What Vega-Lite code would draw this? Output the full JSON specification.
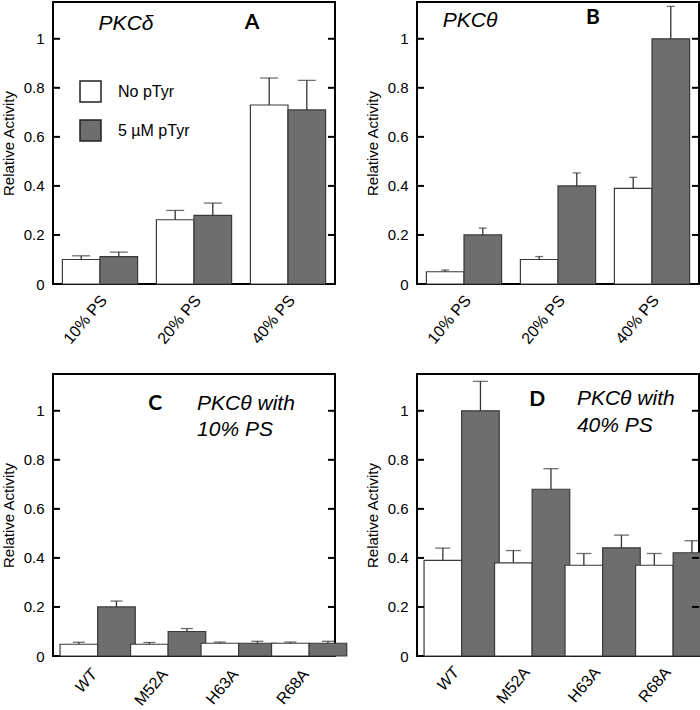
{
  "$schema": "https://vega.github.io/schema/vega-lite/v6.json",
  "padding": {"left": 0, "top": 1, "right": 0, "bottom": 0},
  "background": "white",
  "datasets": {
    "bars": [
      {"panel": "A", "group": "10% PS", "cond": "No pTyr", "value": 0.10, "err": 0.115},
      {"panel": "A", "group": "10% PS", "cond": "5 µM pTyr", "value": 0.112, "err": 0.13},
      {"panel": "A", "group": "20% PS", "cond": "No pTyr", "value": 0.262, "err": 0.30},
      {"panel": "A", "group": "20% PS", "cond": "5 µM pTyr", "value": 0.28, "err": 0.33},
      {"panel": "A", "group": "40% PS", "cond": "No pTyr", "value": 0.73, "err": 0.84},
      {"panel": "A", "group": "40% PS", "cond": "5 µM pTyr", "value": 0.71, "err": 0.83},
      {"panel": "B", "group": "10% PS", "cond": "No pTyr", "value": 0.05, "err": 0.057},
      {"panel": "B", "group": "10% PS", "cond": "5 µM pTyr", "value": 0.20, "err": 0.228},
      {"panel": "B", "group": "20% PS", "cond": "No pTyr", "value": 0.10, "err": 0.112},
      {"panel": "B", "group": "20% PS", "cond": "5 µM pTyr", "value": 0.40, "err": 0.453},
      {"panel": "B", "group": "40% PS", "cond": "No pTyr", "value": 0.39, "err": 0.435},
      {"panel": "B", "group": "40% PS", "cond": "5 µM pTyr", "value": 1.0, "err": 1.132},
      {"panel": "C", "group": "WT", "cond": "No pTyr", "value": 0.048, "err": 0.056},
      {"panel": "C", "group": "WT", "cond": "5 µM pTyr", "value": 0.20, "err": 0.224},
      {"panel": "C", "group": "M52A", "cond": "No pTyr", "value": 0.048, "err": 0.055},
      {"panel": "C", "group": "M52A", "cond": "5 µM pTyr", "value": 0.10, "err": 0.112},
      {"panel": "C", "group": "H63A", "cond": "No pTyr", "value": 0.052, "err": 0.057},
      {"panel": "C", "group": "H63A", "cond": "5 µM pTyr", "value": 0.052, "err": 0.06},
      {"panel": "C", "group": "R68A", "cond": "No pTyr", "value": 0.052, "err": 0.057},
      {"panel": "C", "group": "R68A", "cond": "5 µM pTyr", "value": 0.052, "err": 0.06},
      {"panel": "D", "group": "WT", "cond": "No pTyr", "value": 0.39, "err": 0.44},
      {"panel": "D", "group": "WT", "cond": "5 µM pTyr", "value": 1.0, "err": 1.12},
      {"panel": "D", "group": "M52A", "cond": "No pTyr", "value": 0.38, "err": 0.43},
      {"panel": "D", "group": "M52A", "cond": "5 µM pTyr", "value": 0.68, "err": 0.764},
      {"panel": "D", "group": "H63A", "cond": "No pTyr", "value": 0.37, "err": 0.418},
      {"panel": "D", "group": "H63A", "cond": "5 µM pTyr", "value": 0.441, "err": 0.493},
      {"panel": "D", "group": "R68A", "cond": "No pTyr", "value": 0.37, "err": 0.418},
      {"panel": "D", "group": "R68A", "cond": "5 µM pTyr", "value": 0.421, "err": 0.47}
    ],
    "yticks": [{"v": 0.2}, {"v": 0.4}, {"v": 0.6}, {"v": 0.8}, {"v": 1}],
    "notes": [
      {"panel": "A", "kind": "name", "text": "PKCδ", "x": 0.259, "y": 1.062},
      {"panel": "A", "kind": "letter", "text": "A", "x": 0.706, "y": 1.066},
      {"panel": "B", "kind": "name", "text": "PKCθ", "x": 0.188, "y": 1.072},
      {"panel": "B", "kind": "letter", "text": "B", "x": 0.624, "y": 1.083},
      {"panel": "C", "kind": "letter", "text": "C", "x": 0.362, "y": 1.026},
      {"panel": "C", "kind": "line", "text": "PKCθ with", "x": 0.511, "y": 1.026},
      {"panel": "C", "kind": "line", "text": "10% PS", "x": 0.511, "y": 0.923},
      {"panel": "D", "kind": "letter", "text": "D", "x": 0.426, "y": 1.046},
      {"panel": "D", "kind": "line", "text": "PKCθ with", "x": 0.567, "y": 1.048},
      {"panel": "D", "kind": "line", "text": "40% PS", "x": 0.567, "y": 0.938}
    ]
  },
  "config": {
    "font": "Liberation Sans",
    "view": {"stroke": "black", "strokeWidth": 2},
    "axis": {"grid": false},
    "axisY": {"format": "~g", "tickCount": 6, "domain": false, "ticks": false, "labelPadding": 9, "labelFontSize": 15, "labelColor": "black", "titleFontSize": 15, "titleFontWeight": "normal", "titleColor": "black", "titlePadding": 7}
  },
  "columns": 2,
  "spacing": {"row": 90, "column": 82},
  "bounds": "flush",
  "concat": [
    {
      "width": 282, "height": 282,
      "data": {"name": "bars"},
      "transform": [{"filter": "datum.panel == 'A'"}],
      "layer": [
        {
          "mark": {"type": "bar", "stroke": "#3a3a3a", "strokeWidth": 1.2},
          "encoding": {
            "x": {"field": "group", "type": "nominal", "sort": null, "scale": {"paddingInner": 0.2, "paddingOuter": 0.1},
              "axis": {"title": null, "domain": false, "ticks": false, "labelAngle": -50, "labelAlign": "right", "labelBaseline": "middle", "labelPadding": 13, "labelOffset": 4, "labelFontSize": 16, "labelColor": "black"}},
            "xOffset": {"field": "cond", "type": "nominal", "sort": ["No pTyr", "5 µM pTyr"]},
            "y": {"field": "value", "type": "quantitative", "title": "Relative Activity", "scale": {"domain": [0, 1.15], "nice": false}},
            "fill": {"field": "cond", "type": "nominal", "scale": {"domain": ["No pTyr", "5 µM pTyr"], "range": ["#ffffff", "#6e6e6e"]},
              "legend": {"title": null, "orient": "none", "legendX": 26, "legendY": 78, "padding": 0, "symbolType": "square", "symbolSize": 441, "symbolStrokeColor": "#222222", "symbolStrokeWidth": 1.5, "labelFontSize": 16, "labelColor": "black", "labelOffset": 16, "rowPadding": 12}}
          }
        },
        {
          "mark": {"type": "rule", "color": "#333333", "strokeWidth": 1.3},
          "encoding": {
            "x": {"field": "group", "type": "nominal", "sort": null, "scale": {"paddingInner": 0.2, "paddingOuter": 0.1}, "axis": null},
            "xOffset": {"field": "cond", "type": "nominal", "sort": ["No pTyr", "5 µM pTyr"]},
            "y": {"field": "value", "type": "quantitative", "title": "Relative Activity"},
            "y2": {"field": "err"}
          }
        },
        {
          "mark": {"type": "tick", "color": "#333333", "thickness": 1.3, "size": 18},
          "encoding": {
            "x": {"field": "group", "type": "nominal", "sort": null, "scale": {"paddingInner": 0.2, "paddingOuter": 0.1}, "axis": null},
            "xOffset": {"field": "cond", "type": "nominal", "sort": ["No pTyr", "5 µM pTyr"]},
            "y": {"field": "err", "type": "quantitative", "title": "Relative Activity"}
          }
        },
        {
          "data": {"name": "yticks"},
          "mark": {"type": "rule", "color": "black", "strokeWidth": 2},
          "encoding": {
            "y": {"field": "v", "type": "quantitative", "title": "Relative Activity"},
            "x": {"datum": 0, "type": "quantitative", "scale": {"domain": [0, 1]}, "axis": null},
            "x2": {"datum": 0.025}
          }
        },
        {
          "data": {"name": "yticks"},
          "mark": {"type": "rule", "color": "black", "strokeWidth": 2},
          "encoding": {
            "y": {"field": "v", "type": "quantitative", "title": "Relative Activity"},
            "x": {"datum": 0.975, "type": "quantitative", "scale": {"domain": [0, 1]}, "axis": null},
            "x2": {"datum": 1}
          }
        },
        {
          "data": {"name": "notes"},
          "transform": [{"filter": "datum.panel == 'A' && datum.kind == 'name'"}],
          "mark": {"type": "text", "fontStyle": "italic", "fontSize": 21, "align": "center", "baseline": "middle", "font": "Liberation Sans"},
          "encoding": {
            "x": {"field": "x", "type": "quantitative", "scale": {"domain": [0, 1]}, "axis": null},
            "y": {"field": "y", "type": "quantitative", "title": "Relative Activity"},
            "text": {"field": "text"}
          }
        },
        {
          "data": {"name": "notes"},
          "transform": [{"filter": "datum.panel == 'A' && datum.kind == 'letter'"}],
          "mark": {"type": "text", "fontWeight": "bold", "fontSize": 21, "align": "center", "baseline": "middle", "font": "Lato"},
          "encoding": {
            "x": {"field": "x", "type": "quantitative", "scale": {"domain": [0, 1]}, "axis": null},
            "y": {"field": "y", "type": "quantitative", "title": "Relative Activity"},
            "text": {"field": "text"}
          }
        }
      ],
      "resolve": {"scale": {"x": "independent"}, "axis": {"x": "independent"}}
    },
    {
      "width": 282, "height": 282,
      "data": {"name": "bars"},
      "transform": [{"filter": "datum.panel == 'B'"}],
      "layer": [
        {
          "mark": {"type": "bar", "stroke": "#3a3a3a", "strokeWidth": 1.2},
          "encoding": {
            "x": {"field": "group", "type": "nominal", "sort": null, "scale": {"paddingInner": 0.2, "paddingOuter": 0.1},
              "axis": {"title": null, "domain": false, "ticks": false, "labelAngle": -50, "labelAlign": "right", "labelBaseline": "middle", "labelPadding": 13, "labelOffset": 4, "labelFontSize": 16, "labelColor": "black"}},
            "xOffset": {"field": "cond", "type": "nominal", "sort": ["No pTyr", "5 µM pTyr"]},
            "y": {"field": "value", "type": "quantitative", "title": "Relative Activity", "scale": {"domain": [0, 1.15], "nice": false}},
            "fill": {"field": "cond", "type": "nominal", "scale": {"domain": ["No pTyr", "5 µM pTyr"], "range": ["#ffffff", "#6e6e6e"]}, "legend": null}
          }
        },
        {
          "mark": {"type": "rule", "color": "#333333", "strokeWidth": 1.3},
          "encoding": {
            "x": {"field": "group", "type": "nominal", "sort": null, "scale": {"paddingInner": 0.2, "paddingOuter": 0.1}, "axis": null},
            "xOffset": {"field": "cond", "type": "nominal", "sort": ["No pTyr", "5 µM pTyr"]},
            "y": {"field": "value", "type": "quantitative", "title": "Relative Activity"},
            "y2": {"field": "err"}
          }
        },
        {
          "mark": {"type": "tick", "color": "#333333", "thickness": 1.3, "size": 8},
          "encoding": {
            "x": {"field": "group", "type": "nominal", "sort": null, "scale": {"paddingInner": 0.2, "paddingOuter": 0.1}, "axis": null},
            "xOffset": {"field": "cond", "type": "nominal", "sort": ["No pTyr", "5 µM pTyr"]},
            "y": {"field": "err", "type": "quantitative", "title": "Relative Activity"}
          }
        },
        {
          "data": {"name": "yticks"},
          "mark": {"type": "rule", "color": "black", "strokeWidth": 2},
          "encoding": {
            "y": {"field": "v", "type": "quantitative", "title": "Relative Activity"},
            "x": {"datum": 0, "type": "quantitative", "scale": {"domain": [0, 1]}, "axis": null},
            "x2": {"datum": 0.025}
          }
        },
        {
          "data": {"name": "yticks"},
          "mark": {"type": "rule", "color": "black", "strokeWidth": 2},
          "encoding": {
            "y": {"field": "v", "type": "quantitative", "title": "Relative Activity"},
            "x": {"datum": 0.975, "type": "quantitative", "scale": {"domain": [0, 1]}, "axis": null},
            "x2": {"datum": 1}
          }
        },
        {
          "data": {"name": "notes"},
          "transform": [{"filter": "datum.panel == 'B' && datum.kind == 'name'"}],
          "mark": {"type": "text", "fontStyle": "italic", "fontSize": 21, "align": "center", "baseline": "middle", "font": "Liberation Sans"},
          "encoding": {
            "x": {"field": "x", "type": "quantitative", "scale": {"domain": [0, 1]}, "axis": null},
            "y": {"field": "y", "type": "quantitative", "title": "Relative Activity"},
            "text": {"field": "text"}
          }
        },
        {
          "data": {"name": "notes"},
          "transform": [{"filter": "datum.panel == 'B' && datum.kind == 'letter'"}],
          "mark": {"type": "text", "fontWeight": "bold", "fontSize": 21, "align": "center", "baseline": "middle", "font": "Lato"},
          "encoding": {
            "x": {"field": "x", "type": "quantitative", "scale": {"domain": [0, 1]}, "axis": null},
            "y": {"field": "y", "type": "quantitative", "title": "Relative Activity"},
            "text": {"field": "text"}
          }
        }
      ],
      "resolve": {"scale": {"x": "independent"}, "axis": {"x": "independent"}}
    },
    {
      "width": 282, "height": 282,
      "data": {"name": "bars"},
      "transform": [{"filter": "datum.panel == 'C'"}],
      "layer": [
        {
          "mark": {"type": "bar", "stroke": "#3a3a3a", "strokeWidth": 1.2},
          "encoding": {
            "x": {"field": "group", "type": "nominal", "sort": null, "scale": {"paddingInner": 0.2, "paddingOuter": 0.1},
              "axis": {"title": null, "domain": false, "ticks": false, "labelAngle": -50, "labelAlign": "right", "labelBaseline": "middle", "labelPadding": 15, "labelOffset": 6, "labelFontSize": 16, "labelColor": "black",
                "labelFontStyle": {"condition": {"test": "datum.value === 'WT'", "value": "italic"}, "value": "normal"}}},
            "xOffset": {"field": "cond", "type": "nominal", "sort": ["No pTyr", "5 µM pTyr"]},
            "y": {"field": "value", "type": "quantitative", "title": "Relative Activity", "scale": {"domain": [0, 1.15], "nice": false}},
            "fill": {"field": "cond", "type": "nominal", "scale": {"domain": ["No pTyr", "5 µM pTyr"], "range": ["#ffffff", "#6e6e6e"]}, "legend": null}
          }
        },
        {
          "mark": {"type": "rule", "color": "#333333", "strokeWidth": 1.3},
          "encoding": {
            "x": {"field": "group", "type": "nominal", "sort": null, "scale": {"paddingInner": 0.2, "paddingOuter": 0.1}, "axis": null},
            "xOffset": {"field": "cond", "type": "nominal", "sort": ["No pTyr", "5 µM pTyr"]},
            "y": {"field": "value", "type": "quantitative", "title": "Relative Activity"},
            "y2": {"field": "err"}
          }
        },
        {
          "mark": {"type": "tick", "color": "#333333", "thickness": 1.3, "size": 12},
          "encoding": {
            "x": {"field": "group", "type": "nominal", "sort": null, "scale": {"paddingInner": 0.2, "paddingOuter": 0.1}, "axis": null},
            "xOffset": {"field": "cond", "type": "nominal", "sort": ["No pTyr", "5 µM pTyr"]},
            "y": {"field": "err", "type": "quantitative", "title": "Relative Activity"}
          }
        },
        {
          "data": {"name": "yticks"},
          "mark": {"type": "rule", "color": "black", "strokeWidth": 2},
          "encoding": {
            "y": {"field": "v", "type": "quantitative", "title": "Relative Activity"},
            "x": {"datum": 0, "type": "quantitative", "scale": {"domain": [0, 1]}, "axis": null},
            "x2": {"datum": 0.025}
          }
        },
        {
          "data": {"name": "yticks"},
          "mark": {"type": "rule", "color": "black", "strokeWidth": 2},
          "encoding": {
            "y": {"field": "v", "type": "quantitative", "title": "Relative Activity"},
            "x": {"datum": 0.975, "type": "quantitative", "scale": {"domain": [0, 1]}, "axis": null},
            "x2": {"datum": 1}
          }
        },
        {
          "data": {"name": "notes"},
          "transform": [{"filter": "datum.panel == 'C' && datum.kind == 'line'"}],
          "mark": {"type": "text", "fontStyle": "italic", "fontSize": 21, "align": "left", "baseline": "middle", "font": "Liberation Sans"},
          "encoding": {
            "x": {"field": "x", "type": "quantitative", "scale": {"domain": [0, 1]}, "axis": null},
            "y": {"field": "y", "type": "quantitative", "title": "Relative Activity"},
            "text": {"field": "text"}
          }
        },
        {
          "data": {"name": "notes"},
          "transform": [{"filter": "datum.panel == 'C' && datum.kind == 'letter'"}],
          "mark": {"type": "text", "fontWeight": "bold", "fontSize": 21, "align": "center", "baseline": "middle", "font": "Lato"},
          "encoding": {
            "x": {"field": "x", "type": "quantitative", "scale": {"domain": [0, 1]}, "axis": null},
            "y": {"field": "y", "type": "quantitative", "title": "Relative Activity"},
            "text": {"field": "text"}
          }
        }
      ],
      "resolve": {"scale": {"x": "independent"}, "axis": {"x": "independent"}}
    },
    {
      "width": 282, "height": 282,
      "data": {"name": "bars"},
      "transform": [{"filter": "datum.panel == 'D'"}],
      "layer": [
        {
          "mark": {"type": "bar", "stroke": "#3a3a3a", "strokeWidth": 1.2},
          "encoding": {
            "x": {"field": "group", "type": "nominal", "sort": null, "scale": {"paddingInner": 0.2, "paddingOuter": 0.1},
              "axis": {"title": null, "domain": false, "ticks": false, "labelAngle": -50, "labelAlign": "right", "labelBaseline": "middle", "labelPadding": 13, "labelOffset": 4, "labelFontSize": 16, "labelColor": "black",
                "labelFontStyle": {"condition": {"test": "datum.value === 'WT'", "value": "italic"}, "value": "normal"}}},
            "xOffset": {"field": "cond", "type": "nominal", "sort": ["No pTyr", "5 µM pTyr"]},
            "y": {"field": "value", "type": "quantitative", "title": "Relative Activity", "scale": {"domain": [0, 1.15], "nice": false}},
            "fill": {"field": "cond", "type": "nominal", "scale": {"domain": ["No pTyr", "5 µM pTyr"], "range": ["#ffffff", "#6e6e6e"]}, "legend": null}
          }
        },
        {
          "mark": {"type": "rule", "color": "#333333", "strokeWidth": 1.3},
          "encoding": {
            "x": {"field": "group", "type": "nominal", "sort": null, "scale": {"paddingInner": 0.2, "paddingOuter": 0.1}, "axis": null},
            "xOffset": {"field": "cond", "type": "nominal", "sort": ["No pTyr", "5 µM pTyr"]},
            "y": {"field": "value", "type": "quantitative", "title": "Relative Activity"},
            "y2": {"field": "err"}
          }
        },
        {
          "mark": {"type": "tick", "color": "#333333", "thickness": 1.3, "size": 15},
          "encoding": {
            "x": {"field": "group", "type": "nominal", "sort": null, "scale": {"paddingInner": 0.2, "paddingOuter": 0.1}, "axis": null},
            "xOffset": {"field": "cond", "type": "nominal", "sort": ["No pTyr", "5 µM pTyr"]},
            "y": {"field": "err", "type": "quantitative", "title": "Relative Activity"}
          }
        },
        {
          "data": {"name": "yticks"},
          "mark": {"type": "rule", "color": "black", "strokeWidth": 2},
          "encoding": {
            "y": {"field": "v", "type": "quantitative", "title": "Relative Activity"},
            "x": {"datum": 0, "type": "quantitative", "scale": {"domain": [0, 1]}, "axis": null},
            "x2": {"datum": 0.025}
          }
        },
        {
          "data": {"name": "yticks"},
          "mark": {"type": "rule", "color": "black", "strokeWidth": 2},
          "encoding": {
            "y": {"field": "v", "type": "quantitative", "title": "Relative Activity"},
            "x": {"datum": 0.975, "type": "quantitative", "scale": {"domain": [0, 1]}, "axis": null},
            "x2": {"datum": 1}
          }
        },
        {
          "data": {"name": "notes"},
          "transform": [{"filter": "datum.panel == 'D' && datum.kind == 'line'"}],
          "mark": {"type": "text", "fontStyle": "italic", "fontSize": 21, "align": "left", "baseline": "middle", "font": "Liberation Sans"},
          "encoding": {
            "x": {"field": "x", "type": "quantitative", "scale": {"domain": [0, 1]}, "axis": null},
            "y": {"field": "y", "type": "quantitative", "title": "Relative Activity"},
            "text": {"field": "text"}
          }
        },
        {
          "data": {"name": "notes"},
          "transform": [{"filter": "datum.panel == 'D' && datum.kind == 'letter'"}],
          "mark": {"type": "text", "fontWeight": "bold", "fontSize": 21, "align": "center", "baseline": "middle", "font": "Lato"},
          "encoding": {
            "x": {"field": "x", "type": "quantitative", "scale": {"domain": [0, 1]}, "axis": null},
            "y": {"field": "y", "type": "quantitative", "title": "Relative Activity"},
            "text": {"field": "text"}
          }
        }
      ],
      "resolve": {"scale": {"x": "independent"}, "axis": {"x": "independent"}}
    }
  ]
}
